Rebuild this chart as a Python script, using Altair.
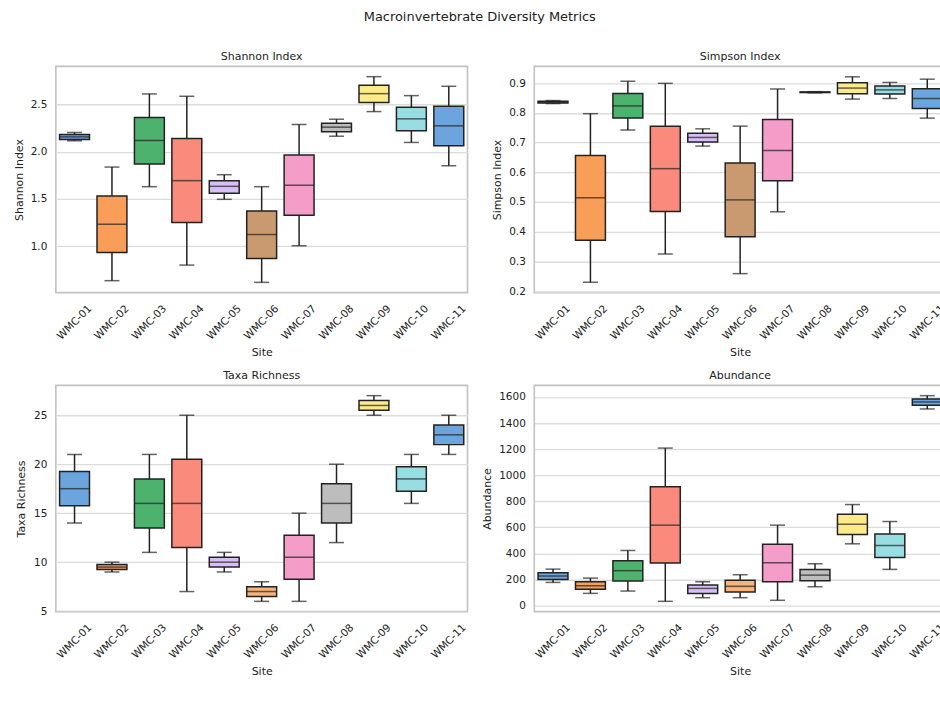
import altair as alt
import pandas as pd

FONT = "DejaVu Sans"
INK = "#222222"

sites = ["WMC-01", "WMC-02", "WMC-03", "WMC-04", "WMC-05", "WMC-06",
         "WMC-07", "WMC-08", "WMC-09", "WMC-10", "WMC-11"]

# Box fills per site (sixth site is tan in the index panels, light orange in the count panels)
colors_index = ["#6CA4DE", "#F89E58", "#4DB26D", "#FA8A7B", "#D8BEF6", "#C99A70",
                "#F39DC8", "#BDBDBD", "#FDEB8B", "#98DDE2", "#6CA4DE"]
colors_count = ["#6CA4DE", "#F89E58", "#4DB26D", "#FA8A7B", "#D8BEF6", "#F5B47C",
                "#F39DC8", "#BDBDBD", "#FDEB8B", "#98DDE2", "#6CA4DE"]

# Five-number summaries per site: lower whisker, Q1, median, Q3, upper whisker
shannon_low = [2.116, 0.634, 1.630, 0.799, 1.496, 0.616, 1.004, 2.165, 2.426, 2.099, 1.852]
shannon_q1 = [2.130, 0.933, 1.870, 1.250, 1.560, 0.870, 1.327, 2.211, 2.521, 2.222, 2.063]
shannon_med = [2.158, 1.232, 2.120, 1.694, 1.634, 1.123, 1.644, 2.261, 2.616, 2.349, 2.275]
shannon_q3 = [2.183, 1.532, 2.363, 2.141, 1.694, 1.373, 1.965, 2.303, 2.704, 2.472, 2.482]
shannon_high = [2.204, 1.838, 2.613, 2.588, 1.757, 1.630, 2.289, 2.345, 2.796, 2.595, 2.694]

simpson_low = [0.831, 0.230, 0.742, 0.325, 0.688, 0.259, 0.467, 0.867, 0.846, 0.848, 0.782]
simpson_q1 = [0.833, 0.371, 0.782, 0.468, 0.702, 0.383, 0.571, 0.868, 0.864, 0.863, 0.814]
simpson_med = [0.836, 0.514, 0.823, 0.612, 0.717, 0.507, 0.673, 0.869, 0.883, 0.877, 0.848]
simpson_q3 = [0.839, 0.656, 0.865, 0.755, 0.731, 0.631, 0.777, 0.870, 0.901, 0.890, 0.881]
simpson_high = [0.841, 0.797, 0.906, 0.899, 0.746, 0.755, 0.880, 0.871, 0.921, 0.902, 0.913]

taxa_low = [14, 9, 11, 7, 9, 6, 6, 12, 25, 16, 21]
taxa_q1 = [15.75, 9.25, 13.5, 11.5, 9.5, 6.5, 8.25, 14, 25.5, 17.25, 22]
taxa_med = [17.5, 9.5, 16, 16, 10, 7, 10.5, 16, 26, 18.5, 23]
taxa_q3 = [19.25, 9.75, 18.5, 20.5, 10.5, 7.5, 12.75, 18, 26.5, 19.75, 24]
taxa_high = [21, 10, 21, 25, 11, 8, 15, 20, 27, 21, 25]

abund_low = [178, 94, 112, 33, 61, 61, 41, 145, 474, 278, 1508]
abund_q1 = [201, 125, 189, 326, 94, 104, 183, 191, 545, 369, 1536]
abund_med = [227, 153, 268, 617, 132, 148, 329, 234, 624, 461, 1562]
abund_q3 = [252, 183, 344, 912, 158, 194, 471, 278, 701, 550, 1585]
abund_high = [280, 211, 423, 1208, 183, 237, 617, 321, 775, 645, 1610]

PANEL_W, PANEL_H = 413, 227
BOX_W, CAP_W = 30, 15


def panel(title, ytitle, low, q1, med, q3, high, colors, domain, ticks, fmt, title_x):
    df = pd.DataFrame({"site": sites, "low": low, "q1": q1, "med": med,
                       "q3": q3, "high": high, "fill": colors})
    yscale = alt.Scale(domain=domain, nice=False, zero=False)
    yaxis = alt.Axis(values=ticks, format=fmt, titleX=title_x)
    x = alt.X("site:N", sort=sites,
              scale=alt.Scale(domain=sites, paddingInner=0, paddingOuter=0),
              axis=alt.Axis(title="Site", titleY=54))
    base = alt.Chart(df).encode(x=x)

    def yenc(field):
        return alt.Y(field, type="quantitative", scale=yscale, axis=yaxis, title=ytitle)

    whisker = base.mark_rule(color=INK, strokeWidth=1.5).encode(
        y=yenc("low"), y2="high:Q")
    cap_low = base.mark_tick(color=INK, size=CAP_W, thickness=1.5).encode(y=yenc("low"))
    cap_high = base.mark_tick(color=INK, size=CAP_W, thickness=1.5).encode(y=yenc("high"))
    box = base.mark_bar(size=BOX_W, stroke=INK, strokeWidth=1.5).encode(
        y=yenc("q1"), y2="q3:Q", color=alt.Color("fill:N", scale=None))
    median = base.mark_tick(color=INK, size=BOX_W, thickness=1.5).encode(y=yenc("med"))

    return alt.layer(whisker, cap_low, cap_high, box, median).properties(
        width=PANEL_W, height=PANEL_H,
        title=alt.TitleParams(title, font=FONT, fontSize=11, fontWeight="normal",
                              color=INK, anchor="middle", frame="group",
                              baseline="alphabetic", offset=-5),
    )


shannon = panel("Shannon Index", "Shannon Index", shannon_low, shannon_q1, shannon_med,
                shannon_q3, shannon_high, colors_index, [0.507, 2.905],
                [1.0, 1.5, 2.0, 2.5], ".1f", -31.5)
simpson = panel("Simpson Index", "Simpson Index", simpson_low, simpson_q1, simpson_med,
                simpson_q3, simpson_high, colors_index, [0.195, 0.956],
                [0.2, 0.3, 0.4, 0.5, 0.6, 0.7, 0.8, 0.9], ".1f", -32)
taxa = panel("Taxa Richness", "Taxa Richness", taxa_low, taxa_q1, taxa_med,
             taxa_q3, taxa_high, colors_count, [4.95, 28.05],
             [5, 10, 15, 20, 25], "d", -29)
abundance = panel("Abundance", "Abundance", abund_low, abund_q1, abund_med,
                  abund_q3, abund_high, colors_count, [-46, 1689],
                  [0, 200, 400, 600, 800, 1000, 1200, 1400, 1600], "d", -41.5)

chart = alt.concat(
    shannon, simpson, taxa, abundance,
    columns=2, spacing={"row": 93, "column": 67}, bounds="flush",
).properties(
    title=alt.TitleParams("Macroinvertebrate Diversity Metrics", font=FONT, fontSize=13,
                          fontWeight="normal", color=INK, anchor="middle", offset=26.5),
    padding={"left": 12, "top": 9.5, "right": -7, "bottom": 5},
).configure_view(
    stroke="#c2c2c2", strokeWidth=1.6,
).configure_axis(
    labelFont=FONT, labelFontSize=10.5, labelColor=INK,
    titleFont=FONT, titleFontSize=11, titleFontWeight="normal", titleColor=INK,
    domain=False, ticks=False, tickSize=0,
).configure_axisY(
    grid=True, gridColor="#dcdcdc", gridWidth=1.3, labelPadding=9,
).configure_axisX(
    grid=False, labelAngle=-45, labelAlign="center", labelBaseline="middle",
    labelPadding=29.5, labelOverlap=False,
)

chart.save("out.html", embed_options={"renderer": "svg", "actions": False})
